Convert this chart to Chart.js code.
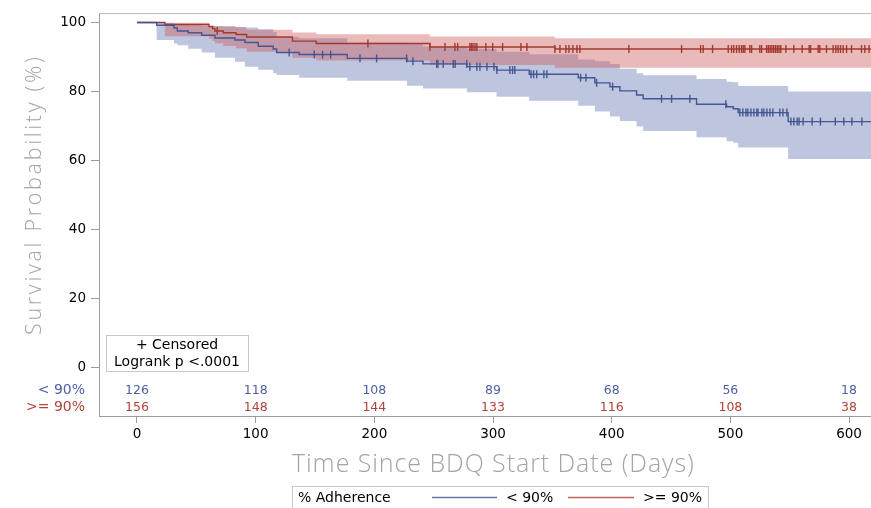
<!DOCTYPE html>
<html>
<head>
<meta charset="utf-8">
<script src="https://cdn.jsdelivr.net/npm/chart.js@4.4.1/dist/chart.umd.min.js"></script>
<style>
html, body { margin: 0; padding: 0; background: #fff; }
#wrap { width: 871px; height: 508px; position: relative; }
</style>
</head>
<body>
<div id="wrap"><canvas id="km"></canvas></div>
<script>
// < 90% adherence: step times (days), survival (%), confidence band
var lowDays  = [0, 16.6, 31.2, 34.0, 43.2, 54.5, 65.7, 82.6, 91.0, 102.2, 114.8, 117.7, 136.7, 177.2, 227.5, 241.0, 278.0, 303.0, 330.5, 371.8, 385.8, 398.5, 406.9, 421.0, 426.5, 471.5, 496.8, 502.4, 506.6, 548.7];
var lowSurv  = [100, 99.2, 98.4, 97.5, 97.0, 96.3, 95.5, 94.9, 94.2, 93.1, 92.3, 91.3, 90.7, 89.6, 88.8, 88.0, 87.2, 86.2, 85.0, 84.0, 82.5, 81.4, 80.2, 79.0, 77.9, 76.3, 75.6, 75.0, 73.9, 71.3];
var lowLower = [100, 94.9, 93.9, 93.4, 92.4, 91.3, 89.8, 88.6, 87.2, 86.3, 85.3, 84.8, 84.0, 83.1, 81.7, 80.9, 79.8, 78.5, 77.3, 75.9, 74.2, 72.8, 71.5, 69.9, 68.6, 66.8, 65.6, 65.2, 63.8, 60.5];
var lowUpper = [100, 99.8, 99.6, 99.4, 99.2, 99.0, 98.9, 98.7, 98.5, 98.0, 97.2, 95.8, 95.4, 94.2, 93.8, 93.0, 92.4, 91.5, 90.8, 89.3, 88.8, 88.0, 86.6, 85.3, 84.7, 83.6, 82.8, 82.7, 81.6, 80.0];
var lowCensor = [128.3, 149.4, 156.4, 163.2, 187.9, 201.9, 227.2, 232.5, 252.5, 253.6, 258.0, 266.5, 268.1, 277.8, 280.5, 286.4, 289.0, 294.9, 300.8, 303.3, 314.2, 316.5, 318.4, 332.0, 334.2, 336.8, 342.9, 345.4, 373.8, 378.3, 387.3, 400.8, 442.0, 450.5, 465.9, 496.2, 508.0, 510.5, 513.1, 514.7, 517.3, 519.8, 522.3, 523.2, 526.5, 528.2, 530.8, 533.3, 535.8, 541.7, 544.3, 547.6, 551.0, 553.5, 556.3, 557.9, 561.3, 568.9, 575.9, 588.4, 595.6, 602.4, 610.8];

// >= 90% adherence
var highDays  = [0, 23.6, 60.7, 63.7, 65.7, 72.7, 83.4, 92.4, 131.0, 151.0, 246.8, 352.1];
var highSurv  = [100, 99.4, 98.8, 98.2, 97.5, 97.0, 96.5, 95.8, 94.6, 93.9, 92.9, 92.3];
var highLower = [100, 96.0, 95.3, 94.6, 93.9, 93.2, 92.5, 91.5, 89.8, 89.0, 87.7, 86.9];
var highUpper = [100, 99.9, 99.2, 99.1, 99.0, 98.8, 98.6, 97.9, 97.1, 96.6, 95.9, 95.4];
var highCensor = [67.6, 194.6, 246.8, 259.5, 267.9, 270.2, 280.5, 281.8, 283.1, 284.8, 286.4, 294.0, 299.7, 308.1, 323.5, 328.6, 352.1, 356.4, 361.4, 364.0, 367.3, 370.7, 373.2, 414.5, 458.9, 474.9, 477.1, 485.0, 498.2, 501.0, 502.9, 505.2, 507.4, 509.4, 510.8, 512.2, 516.4, 517.9, 524.8, 526.3, 530.5, 532.0, 533.5, 535.0, 536.5, 538.0, 539.5, 541.0, 542.5, 546.8, 553.5, 560.5, 566.4, 567.6, 574.0, 575.4, 581.0, 586.6, 588.9, 590.8, 592.8, 595.0, 597.9, 602.1, 610.5, 613.3, 616.9];

// axes and number at risk
var xTicks = [0, 100, 200, 300, 400, 500, 600];
var yTicks = [0, 20, 40, 60, 80, 100];
var atRiskLow  = [126, 118, 108, 89, 68, 56, 18];
var atRiskHigh = [156, 148, 144, 133, 116, 108, 38];

var X_MIN = -32, X_MAX = 618.5;
var BLUE = '#445694', RED = '#A23A2E';

function steps(days, vals) {
  var out = days.map(function (d, i) { return { x: d, y: vals[i] }; });
  out.push({ x: X_MAX, y: vals[vals.length - 1] });
  return out;
}
function valueAt(days, vals, t) {
  var v = vals[0];
  for (var i = 0; i < days.length; i++) { if (days[i] <= t) v = vals[i]; }
  return v;
}
function marks(cens, days, vals) {
  return cens.map(function (t) { return { x: t, y: valueAt(days, vals, t) }; });
}

function band(data, fill, color, order) {
  return {
    data: data, stepped: true, pointRadius: 0, borderWidth: 0,
    borderColor: 'rgba(0,0,0,0)', backgroundColor: color, fill: fill, order: order
  };
}

// draw text stretched to a given width (reference uses a wide light face)
function fitText(ctx, text, x, y, width) {
  ctx.letterSpacing = '0px';
  var w = ctx.measureText(text).width;
  var sp = (width - w) / (text.length - 1);
  ctx.letterSpacing = sp.toFixed(2) + 'px';
  ctx.fillText(text, x - width / 2, y);
  ctx.letterSpacing = '0px';
}

var decor = {
  id: 'decor',
  afterDraw: function (chart) {
    var ctx = chart.ctx, xs = chart.scales.x, a = chart.chartArea;
    ctx.save();
    // top frame
    ctx.strokeStyle = '#B8B8B8';
    ctx.lineWidth = 1;
    ctx.beginPath();
    ctx.moveTo(a.left, a.top + 0.5);
    ctx.lineTo(a.right, a.top + 0.5);
    ctx.stroke();

    // number at risk
    ctx.textAlign = 'center';
    ctx.textBaseline = 'middle';
    ctx.font = '12.5px "DejaVu Sans"';
    xTicks.forEach(function (d, i) {
      var px = xs.getPixelForValue(d);
      ctx.fillStyle = '#4D5FA3';
      ctx.fillText(String(atRiskLow[i]), px, 391);
      ctx.fillStyle = '#B0443A';
      ctx.fillText(String(atRiskHigh[i]), px, 407.5);
    });
    ctx.textAlign = 'right';
    ctx.font = '14px "DejaVu Sans"';
    ctx.fillStyle = '#4D5FA3';
    ctx.fillText('< 90%', 85, 390.5);
    ctx.fillStyle = '#B0443A';
    ctx.fillText('>= 90%', 85, 407.5);

    // inset box
    ctx.strokeStyle = '#C8C8C8';
    ctx.strokeRect(106.5, 335.5, 142, 36);
    ctx.fillStyle = '#000';
    ctx.textAlign = 'center';
    ctx.font = '14px "DejaVu Sans"';
    ctx.fillText('+ Censored', 177, 345.5);
    ctx.fillText('Logrank p <.0001', 177, 362.5);

    // axis titles
    ctx.fillStyle = '#A4A4A4';
    ctx.textAlign = 'left';
    ctx.font = '300 25px "Open Sans"';
    fitText(ctx, 'Time Since BDQ Start Date (Days)', 493, 465, 402);
    ctx.save();
    ctx.translate(35, 196);
    ctx.rotate(-Math.PI / 2);
    ctx.font = '300 21.5px "Open Sans"';
    fitText(ctx, 'Survival Probability (%)', 0, 0, 278);
    ctx.restore();

    // legend
    ctx.strokeStyle = '#C8C8C8';
    ctx.lineWidth = 1;
    ctx.strokeRect(292.5, 486.5, 416, 30);
    ctx.font = '14px "DejaVu Sans"';
    ctx.textAlign = 'left';
    ctx.fillStyle = '#000';
    ctx.fillText('% Adherence', 298, 498);
    ctx.fillText('< 90%', 506, 498);
    ctx.fillText('>= 90%', 643, 498);
    ctx.lineWidth = 1.3;
    ctx.strokeStyle = '#6677B0';
    ctx.beginPath(); ctx.moveTo(432, 497.5); ctx.lineTo(497, 497.5); ctx.stroke();
    ctx.strokeStyle = '#C0645B';
    ctx.beginPath(); ctx.moveTo(568, 497.5); ctx.lineTo(634, 497.5); ctx.stroke();
    ctx.restore();
  }
};

new Chart(document.getElementById('km'), {
  type: 'line',
  data: {
    datasets: [
      band(steps(lowDays, lowLower), false, 'rgba(0,0,0,0)', 5),
      band(steps(lowDays, lowUpper), 0, 'rgba(70,90,160,0.35)', 5),
      band(steps(highDays, highLower), false, 'rgba(0,0,0,0)', 4),
      band(steps(highDays, highUpper), 2, 'rgba(205,90,90,0.42)', 4),
      { data: steps(lowDays, lowSurv), stepped: true, pointRadius: 0, borderColor: BLUE, borderWidth: 1.4, fill: false, order: 2 },
      { data: steps(highDays, highSurv), stepped: true, pointRadius: 0, borderColor: RED, borderWidth: 1.4, fill: false, order: 2 },
      { data: marks(lowCensor, lowDays, lowSurv), showLine: false, pointStyle: 'line', pointRotation: 90, pointRadius: 4,
        pointBorderColor: BLUE, pointBorderWidth: 1.4, borderColor: BLUE, order: 1 },
      { data: marks(highCensor, highDays, highSurv), showLine: false, pointStyle: 'line', pointRotation: 90, pointRadius: 4,
        pointBorderColor: RED, pointBorderWidth: 1.4, borderColor: RED, order: 1 }
    ]
  },
  options: {
    responsive: true,
    maintainAspectRatio: false,
    animation: false,
    layout: { autoPadding: false, padding: { top: 11, left: 0, right: 0, bottom: 0 } },
    plugins: { legend: { display: false }, tooltip: { enabled: false } },
    scales: {
      x: {
        type: 'linear', min: X_MIN, max: X_MAX,
        afterBuildTicks: function (s) { s.ticks = xTicks.map(function (v) { return { value: v }; }); },
        afterFit: function (s) { s.height = 92; },
        grid: { drawOnChartArea: false, drawTicks: true, tickLength: 7, color: '#9C9C9C' },
        border: { display: true, color: '#9C9C9C' },
        ticks: { color: '#000', font: { family: 'DejaVu Sans', size: 13.5 }, padding: 3, maxRotation: 0 }
      },
      y: {
        min: -13.9, max: 102.7,
        afterBuildTicks: function (s) { s.ticks = yTicks.map(function (v) { return { value: v }; }); },
        afterFit: function (s) { s.width = 99; },
        grid: { drawOnChartArea: false, drawTicks: true, tickLength: 8, color: '#9C9C9C' },
        border: { display: true, color: '#9C9C9C' },
        ticks: { color: '#000', font: { family: 'DejaVu Sans', size: 13.5 }, padding: 5 }
      }
    }
  },
  plugins: [decor]
});
</script>
</body>
</html>
